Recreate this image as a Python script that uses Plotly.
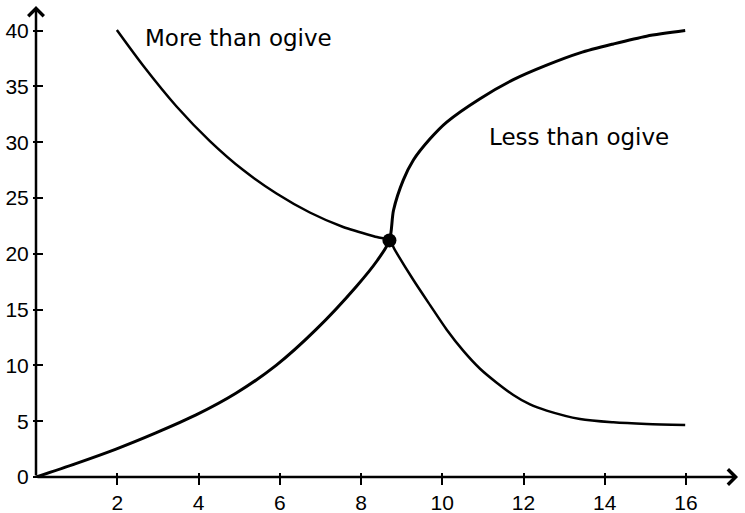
import plotly.graph_objects as go

# Less than ogive
less_x = [0, 0.98, 1.97, 2.95, 3.94, 4.92, 5.91, 6.89, 7.88, 8.40, 8.70, 8.80, 9.04, 9.29, 9.70, 10.11, 10.93, 11.75, 12.57, 13.39, 14.21, 15.03, 15.98]
less_y = [0, 1.2, 2.5, 3.95, 5.56, 7.5, 10.0, 13.2, 17.05, 19.4, 21.2, 23.9, 26.6, 28.4, 30.3, 31.8, 33.9, 35.6, 36.9, 38.0, 38.8, 39.5, 40.0]

# More than ogive
more_x = [1.99, 2.64, 3.46, 4.28, 5.10, 5.92, 6.74, 7.56, 8.39, 8.70, 8.84, 9.29, 9.70, 10.11, 10.52, 10.93, 11.34, 11.75, 12.16, 12.57, 13.39, 14.21, 15.03, 15.98]
more_y = [40.05, 36.85, 33.2, 30.1, 27.5, 25.4, 23.7, 22.4, 21.5, 21.2, 20.3, 17.65, 15.4, 13.2, 11.3, 9.7, 8.45, 7.35, 6.5, 5.95, 5.2, 4.9, 4.75, 4.66]

# Intersection point
cross_x = [8.70]
cross_y = [21.2]

x_ticks = [2, 4, 6, 8, 10, 12, 14, 16]
y_ticks = [0, 5, 10, 15, 20, 25, 30, 35, 40]

fig = go.Figure()
fig.add_trace(go.Scatter(x=less_x, y=less_y, mode="lines",
                         line=dict(color="black", width=3, shape="spline", smoothing=0.8),
                         name="Less than ogive", showlegend=False, hoverinfo="skip"))
fig.add_trace(go.Scatter(x=more_x, y=more_y, mode="lines",
                         line=dict(color="black", width=2.5, shape="spline", smoothing=0.8),
                         name="More than ogive", showlegend=False, hoverinfo="skip"))
fig.add_trace(go.Scatter(x=cross_x, y=cross_y, mode="markers",
                         marker=dict(color="black", size=14),
                         showlegend=False, hoverinfo="skip"))

tick_font = dict(family="Liberation Sans, Arial, sans-serif", size=21, color="black")

fig.update_layout(
    width=745, height=513,
    margin=dict(l=36, r=0, t=0, b=36, pad=0),
    paper_bgcolor="white", plot_bgcolor="white",
    xaxis=dict(range=[0, 17.452], anchor="free", position=5 / 477,
               tickvals=x_ticks, ticktext=[str(v) for v in x_ticks],
               ticks="outside", ticklen=12, tickwidth=2, tickcolor="black",
               showline=False, showgrid=False, zeroline=False,
               tickfont=tick_font, automargin=False),
    yaxis=dict(range=[0, 42.74], anchor="free", position=7 / 709,
               tickvals=y_ticks, ticktext=[str(v) for v in y_ticks],
               ticks="outside", ticklen=10, tickwidth=2, tickcolor="black",
               showline=False, showgrid=False, zeroline=False,
               tickfont=tick_font, automargin=False),
)

# Axis lines with arrowheads
fig.add_annotation(x=17.28, y=0, ax=0, ay=0, xref="x", yref="y", axref="x", ayref="y",
                   text="", showarrow=True, arrowhead=4, arrowwidth=2.5, arrowsize=1.2,
                   arrowcolor="black", standoff=0, startstandoff=0)
fig.add_annotation(x=0, y=42.2, ax=0, ay=0, xref="x", yref="y", axref="x", ayref="y",
                   text="", showarrow=True, arrowhead=4, arrowwidth=2.5, arrowsize=1.2,
                   arrowcolor="black", standoff=0, startstandoff=0)

label_font = dict(family="DejaVu Sans, sans-serif", size=23, color="black")
fig.add_annotation(x=2.63, y=39.3, xref="x", yref="y", text="More than ogive",
                   showarrow=False, xanchor="left", yanchor="middle", font=label_font)
fig.add_annotation(x=11.1, y=30.5, xref="x", yref="y", text="Less than ogive",
                   showarrow=False, xanchor="left", yanchor="middle", font=label_font)

fig.write_html("out.html", post_script="document.body.style.margin='0';",
               config={"displayModeBar": False})
